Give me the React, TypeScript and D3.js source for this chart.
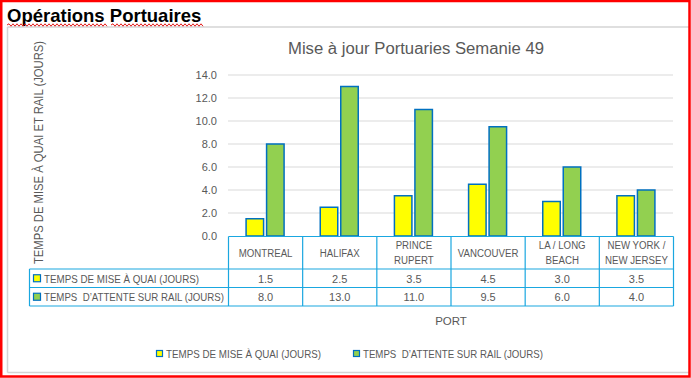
import React from "react";
import * as d3 from "d3";

const categories = [
  ["MONTREAL"],
  ["HALIFAX"],
  ["PRINCE", "RUPERT"],
  ["VANCOUVER"],
  ["LA / LONG", "BEACH"],
  ["NEW YORK /", "NEW JERSEY"],
];
const categoryKeys = ["MONTREAL", "HALIFAX", "PRINCE RUPERT", "VANCOUVER", "LA / LONG BEACH", "NEW YORK / NEW JERSEY"];
const quaiValues = [1.5, 2.5, 3.5, 4.5, 3.0, 3.5];
const railValues = [8.0, 13.0, 11.0, 9.5, 6.0, 4.0];
const seriesNames = ["TEMPS DE MISE À QUAI (JOURS)", "TEMPS\u00a0 D\u2019ATTENTE SUR RAIL (JOURS)"];
const yTicks = [0, 2, 4, 6, 8, 10, 12, 14];

const W = 691;
const H = 378;
const FONT = "'Liberation Sans', Arial, sans-serif";
const TXT = "#595959";
const BLUE_LINE = "#1aa7e0";
const BAR_STROKE = "#0070C0";
const YELLOW = "#FFFF00";
const GREEN = "#92D050";

function wavy(x0: number, x1: number, y: number) {
  let d = `M${x0},${y}`;
  let up = true;
  for (let x = x0; x < x1; x += 2) {
    d += ` L${x + 2},${y + (up ? -1.2 : 1.2)}`;
    up = !up;
  }
  return d;
}

export default function App() {
  const x = d3.scaleBand<string>().domain(categoryKeys).range([228.5, 673.5]).padding(0);
  const y = d3.scaleLinear().domain([0, 14]).range([236, 75]);
  const barW = 17.5;
  const gap = 3;
  const bw = x.bandwidth();
  const rowTop = 269;
  const rowMid = 287.5;
  const rowBot = 306;
  const tableLeft = 29.5;
  const legendLens = [155, 180];

  return (
    <svg width={W} height={H} style={{ position: "absolute", left: 0, top: 0, background: "#fff" }}>
      <rect x={0} y={0} width={W} height={H} fill="#fff" />
      <line x1={7.5} y1={27} x2={689} y2={27} stroke="#d4d4d4" strokeWidth={1.5} />
      <line x1={7.5} y1={27} x2={7.5} y2={372.5} stroke="#d4d4d4" strokeWidth={1.5} />
      <line x1={7.5} y1={372.5} x2={689} y2={372.5} stroke="#d4d4d4" strokeWidth={1.5} />

      {/* sheet title */}
      <text x={7} y={22} fontFamily={FONT} fontWeight="bold" fontSize={18.5} fill="#000">
        Opérations Portuaires
      </text>
      <path d={wavy(7, 106, 25)} stroke="#e00000" strokeWidth={0.9} fill="none" />
      <path d={wavy(111, 202, 25)} stroke="#e00000" strokeWidth={0.9} fill="none" />

      {/* chart title */}
      <text x={288} y={54} textLength={256} lengthAdjust="spacingAndGlyphs" fontFamily={FONT} fontSize={16} fill={TXT}>
        Mise à jour Portuaries Semanie 49
      </text>

      {/* gridlines and y ticks */}
      {yTicks.map((t) => (
        <g key={t}>
          {t > 0 && (
            <line x1={228} x2={673} y1={y(t)} y2={y(t)} stroke="#d9d9d9" strokeWidth={1} />
          )}
          <text x={217} y={y(t)} dy="0.35em" textAnchor="end" fontFamily={FONT} fontSize={11} fill={TXT}>
            {t.toFixed(1)}
          </text>
        </g>
      ))}

      {/* y axis title */}
      <text
        transform={`translate(43,264) rotate(-90)`}
        textLength={223}
        lengthAdjust="spacingAndGlyphs"
        fontFamily={FONT}
        fontSize={12}
        fill={TXT}
      >
        TEMPS DE MISE À QUAI ET RAIL (JOURS)
      </text>

      {/* bars */}
      {categoryKeys.map((c, i) => {
        const cx = (x(c) as number) + bw / 2;
        const x0 = cx - barW - gap / 2 - 0.5;
        const x1 = cx + gap / 2 - 0.5;
        return (
          <g key={c}>
            <rect x={x0} y={y(quaiValues[i])} width={barW} height={y(0) - y(quaiValues[i])} fill={YELLOW} stroke={BAR_STROKE} strokeWidth={1.5} />
            <rect x={x1} y={y(railValues[i])} width={barW} height={y(0) - y(railValues[i])} fill={GREEN} stroke={BAR_STROKE} strokeWidth={1.5} />
          </g>
        );
      })}

      {/* data table */}
      <g stroke={BLUE_LINE} strokeWidth={1.2} fill="none">
        <line x1={228.5} x2={673.5} y1={236.5} y2={236.5} />
        <line x1={tableLeft} x2={673.5} y1={rowTop} y2={rowTop} />
        <line x1={tableLeft} x2={673.5} y1={rowMid} y2={rowMid} />
        <line x1={tableLeft} x2={673.5} y1={rowBot} y2={rowBot} />
        <line x1={tableLeft} x2={tableLeft} y1={rowTop} y2={rowBot} />
        {categoryKeys.map((c) => (
          <line key={c} x1={x(c) as number} x2={x(c) as number} y1={236.5} y2={rowBot} />
        ))}
        <line x1={673.5} x2={673.5} y1={236.5} y2={rowBot} />
      </g>
      {categoryKeys.map((c, i) => {
        const cx = (x(c) as number) + bw / 2;
        const lines = categories[i];
        return (
          <g key={c} fontFamily={FONT} fontSize={11} fill={TXT} textAnchor="middle">
            <g transform={`translate(${cx},0) scale(0.88,1)`}>
              {lines.length === 1 ? (
                <text x={0} y={253} dy="0.35em">{lines[0]}</text>
              ) : (
                lines.map((l, j) => (
                  <text key={j} x={0} y={245.5 + j * 14.5} dy="0.35em">{l}</text>
                ))
              )}
            </g>
            <text x={cx} y={(rowTop + rowMid) / 2 + 0.5} dy="0.35em">{quaiValues[i].toFixed(1)}</text>
            <text x={cx} y={(rowMid + rowBot) / 2 + 0.5} dy="0.35em">{railValues[i].toFixed(1)}</text>
          </g>
        );
      })}
      {/* table legend keys */}
      {[YELLOW, GREEN].map((col, i) => {
        const cy = i === 0 ? (rowTop + rowMid) / 2 : (rowMid + rowBot) / 2;
        return (
          <g key={i}>
            <rect x={33.5} y={cy - 3.5} width={7} height={7} fill={col} stroke={BAR_STROKE} strokeWidth={1.2} />
            <text x={44} y={cy + 0.5} dy="0.35em" textLength={legendLens[i]} lengthAdjust="spacingAndGlyphs" fontFamily={FONT} fontSize={11} fill={TXT}>
              {seriesNames[i]}
            </text>
          </g>
        );
      })}

      {/* x axis title */}
      <text x={451} y={321} dy="0.35em" textAnchor="middle" fontFamily={FONT} fontSize={11.5} fill={TXT}>
        PORT
      </text>

      {/* legend */}
      {[
        { col: YELLOW, kx: 156, tx: 166 },
        { col: GREEN, kx: 353, tx: 363 },
      ].map((l, i) => (
        <g key={i}>
          <rect x={l.kx + 0.5} y={350.5} width={6} height={6} fill={l.col} stroke={BAR_STROKE} strokeWidth={1.2} />
          <text x={l.tx} y={354} dy="0.35em" textLength={legendLens[i]} lengthAdjust="spacingAndGlyphs" fontFamily={FONT} fontSize={11} fill={TXT}>
            {seriesNames[i]}
          </text>
        </g>
      ))}

      {/* red selection frame */}
      <rect x={1.25} y={1} width={W - 2.75} height={H - 2.5} fill="none" stroke="#ff0000" strokeWidth={2.5} />
    </svg>
  );
}
